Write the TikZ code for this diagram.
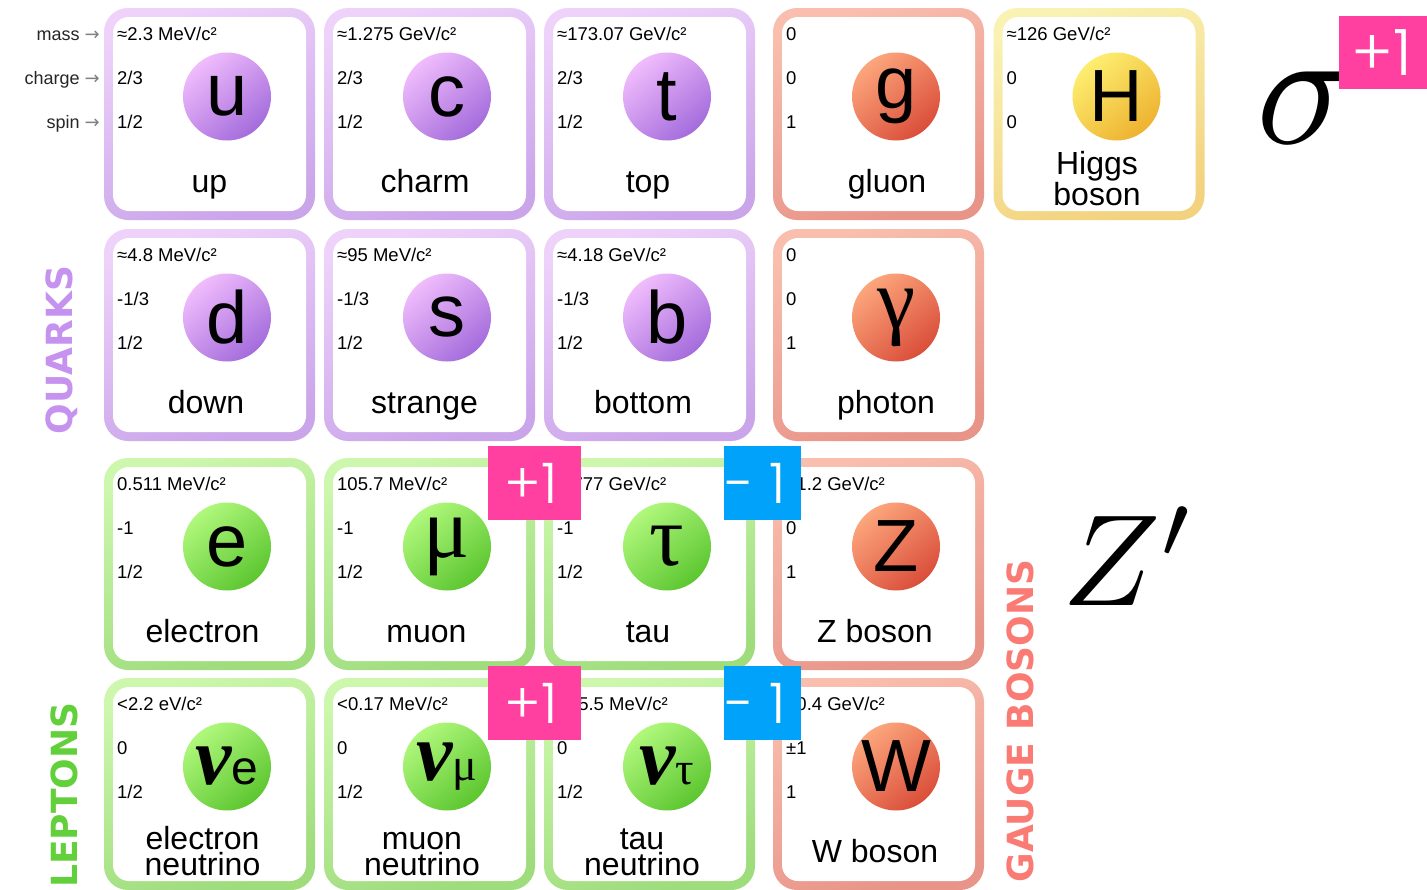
\documentclass[tikz,border=0pt]{standalone}
\usepackage{graphicx}
\usepackage{fontspec}
\setmainfont{Liberation Sans}
\newfontfamily\greekfont{Liberation Serif}
\newfontfamily\groupfont{DejaVu Sans}
\newfontfamily\arrowfont{DejaVu Sans}
\IfFontExistsTF{Poppins Light}{\newfontfamily\badgefont{Poppins Light}}{\newfontfamily\badgefont{Poppins}}
\definecolor{qRingT}{RGB}{238,210,250}
\definecolor{qRingB}{RGB}{202,165,234}
\definecolor{qBallT}{RGB}{240,188,252}
\definecolor{qBallB}{RGB}{164,108,220}
\definecolor{lRingT}{RGB}{204,247,172}
\definecolor{lRingB}{RGB}{158,220,124}
\definecolor{lBallT}{RGB}{176,248,124}
\definecolor{lBallB}{RGB}{92,198,48}
\definecolor{bRingT}{RGB}{249,190,174}
\definecolor{bRingB}{RGB}{232,148,136}
\definecolor{bBallT}{RGB}{252,166,124}
\definecolor{bBallB}{RGB}{218,78,58}
\definecolor{hRingT}{RGB}{249,242,178}
\definecolor{hRingB}{RGB}{242,210,126}
\definecolor{hBallT}{RGB}{253,238,112}
\definecolor{hBallB}{RGB}{238,178,48}
\definecolor{quarkTxt}{RGB}{198,146,240}
\definecolor{leptonTxt}{RGB}{98,208,58}
\definecolor{bosonTxt}{RGB}{250,122,116}
\definecolor{badgePink}{RGB}{255,64,160}
\definecolor{badgeBlue}{RGB}{0,162,250}
\tikzset{
  quark ring/.style={top color=qRingT, bottom color=qRingB, shading angle=20},
  quark ball/.style={top color=qBallT, bottom color=qBallB, shading angle=40},
  lepton ring/.style={top color=lRingT, bottom color=lRingB, shading angle=20},
  lepton ball/.style={top color=lBallT, bottom color=lBallB, shading angle=40},
  boson ring/.style={top color=bRingT, bottom color=bRingB, shading angle=20},
  boson ball/.style={top color=bBallT, bottom color=bBallB, shading angle=40},
  higgs ring/.style={top color=hRingT, bottom color=hRingB, shading angle=20},
  higgs ball/.style={top color=hBallT, bottom color=hBallB, shading angle=40},
  prop/.style={anchor=base west, inner sep=0pt, font=\fontsize{18.5}{20}\selectfont},
  sym/.style={inner sep=0pt, font=\fontsize{74}{74}\selectfont},
  pname/.style={anchor=base, inner sep=0pt, align=center, font=\fontsize{32}{26}\selectfont},
  legend/.style={anchor=base east, inner sep=0pt, font=\fontsize{18}{20}\selectfont, text=black!85},
  group/.style={rotate=90, inner sep=0pt, font=\groupfont\bfseries\fontsize{36}{36}\selectfont},
  badge/.style={inner sep=0pt, text=white, font=\badgefont\fontsize{56}{56}\selectfont},
}
\newcommand\gk[1]{{\greekfont\fontsize{86}{86}\selectfont #1}}
\newcommand\nuglyph{{\greekfont\bfseries\itshape\fontsize{82}{82}\selectfont ν}}
\newcommand\nusym[1]{\nuglyph{\fontsize{48}{48}\selectfont #1}}
\newcommand\nugk[1]{\nuglyph{\greekfont\fontsize{46}{46}\selectfont #1}}
% #1 id, #2 x, #3 y, #4 family, #5 mass, #6 charge, #7 spin, #8 symbol
\newcommand\particle[8]{%
  \shade[#4 ring, rounded corners=24pt] ({#2-4.5},{#3-4.5}) rectangle ({#2+206.5},{#3+207.5});
  \fill[white, rounded corners=16pt] ({#2+4.5},{#3+4.5}) rectangle ({#2+197.5},{#3+198.5});
  \shade[#4 ball] ({#2+118.5},{#3+84}) circle[radius=44pt];
  \node[sym] (#1-sym) at ({#2+118.5},{#3+84}) {#8};
  \node[prop] (#1-mass) at ({#2+8.5},{#3+27.5}) {#5};
  \node[prop] (#1-charge) at ({#2+8.5},{#3+72}) {#6};
  \node[prop] (#1-spin) at ({#2+8.5},{#3+115.5}) {#7};
}
\begin{document}
\begin{tikzpicture}[x=1pt,y=-1pt]
\useasboundingbox (0,0) rectangle (1427,889);
\fill[white] (0,0) rectangle (1427,889);
% row 1
\particle{u}{108.5}{12.5}{quark}{≈2.3 MeV/c²}{2/3}{1/2}{u}
\node[pname] (u-name) at (209.5,192) {up};
\particle{c}{328.5}{12.5}{quark}{≈1.275 GeV/c²}{2/3}{1/2}{c}
\node[pname] (c-name) at (425,192) {charm};
\particle{t}{548.5}{12.5}{quark}{≈173.07 GeV/c²}{2/3}{1/2}{t}
\node[pname] (t-name) at (648,192) {top};
\particle{g}{777.5}{12.5}{boson}{0}{0}{1}{g}
\node[pname] (g-name) at (887,192) {gluon};
\particle{H}{998}{12.5}{higgs}{≈126 GeV/c²}{0}{0}{H}
\node[pname] (H-name) at (1097,205.5) {Higgs\\boson};
% row 2
\particle{d}{108.5}{233.5}{quark}{≈4.8 MeV/c²}{-1/3}{1/2}{d}
\node[pname] (d-name) at (206,413) {down};
\particle{s}{328.5}{233.5}{quark}{≈95 MeV/c²}{-1/3}{1/2}{s}
\node[pname] (s-name) at (424.5,413) {strange};
\particle{b}{548.5}{233.5}{quark}{≈4.18 GeV/c²}{-1/3}{1/2}{b}
\node[pname] (b-name) at (643,413) {bottom};
\particle{gam}{777.5}{233.5}{boson}{0}{0}{1}{\gk{γ}}
\node[pname] (gam-name) at (886,413) {photon};
% row 3
\particle{e}{108.5}{462.5}{lepton}{0.511 MeV/c²}{-1}{1/2}{e}
\node[pname] (e-name) at (202.5,642.5) {electron};
\particle{mu}{328.5}{462.5}{lepton}{105.7 MeV/c²}{-1}{1/2}{\raisebox{-4pt}{\gk{μ}}}
\node[pname] (mu-name) at (426.5,642.5) {muon};
\particle{tau}{548.5}{462.5}{lepton}{1.777 GeV/c²}{-1}{1/2}{\gk{τ}}
\node[pname] (tau-name) at (648,642.5) {tau};
\particle{Z}{777.5}{462.5}{boson}{91.2 GeV/c²}{0}{1}{Z}
\node[pname] (Z-name) at (875,642.5) {Z boson};
% row 4
\particle{nue}{108.5}{682.5}{lepton}{<2.2 eV/c²}{0}{1/2}{\nusym{e}}
\node[pname] (nue-name) at (202.5,875.5) {electron\\neutrino};
\particle{numu}{328.5}{682.5}{lepton}{<0.17 MeV/c²}{0}{1/2}{\nugk{μ}}
\node[pname] (numu-name) at (422,875.5) {muon\\neutrino};
\particle{nutau}{548.5}{682.5}{lepton}{<15.5 MeV/c²}{0}{1/2}{\nugk{τ}}
\node[pname] (nutau-name) at (642,875.5) {tau\\neutrino};
\particle{W}{777.5}{682.5}{boson}{80.4 GeV/c²}{±1}{1}{W}
\node[pname] (W-name) at (875,862.5) {W boson};
% legend
\node[legend] (lg-mass) at (100,40) {mass {\arrowfont\color{black!50}→}};
\node[legend] (lg-charge) at (100,84) {charge {\arrowfont\color{black!50}→}};
\node[legend] (lg-spin) at (100,128) {spin {\arrowfont\color{black!50}→}};
% group labels
\node[group, text=quarkTxt] (grp-q) at (62,350) {QUARKS};
\node[group, text=leptonTxt] (grp-l) at (64,795) {LEPTONS};
\node[group, text=bosonTxt] (grp-b) at (1020,721) {GAUGE BOSONS};
% extra symbols
\node[anchor=base west, inner sep=0pt] (sigma) at (1256,143) {\scalebox{16.6}{$\sigma$}};
\node[anchor=base west, inner sep=0pt] (zprime) at (1062,605) {\scalebox{13}{$Z'$}};
% badges
\fill[badgePink] (1339,16) rectangle (1427,89);
\node[badge, font=\badgefont\fontsize{64}{64}\selectfont] (b-sigma) at (1382,52.5) {+1};
\fill[badgePink] (488,446) rectangle (581,520);
\node[badge] (b-p3) at (531,483) {+1};
\fill[badgeBlue] (724,446) rectangle (801,520);
\node[badge] (b-m3) at (756,483) {- 1};
\fill[badgePink] (488,666) rectangle (581,740);
\node[badge] (b-p4) at (531,703) {+1};
\fill[badgeBlue] (724,666) rectangle (801,740);
\node[badge] (b-m4) at (756,703) {- 1};
\end{tikzpicture}
\end{document}
